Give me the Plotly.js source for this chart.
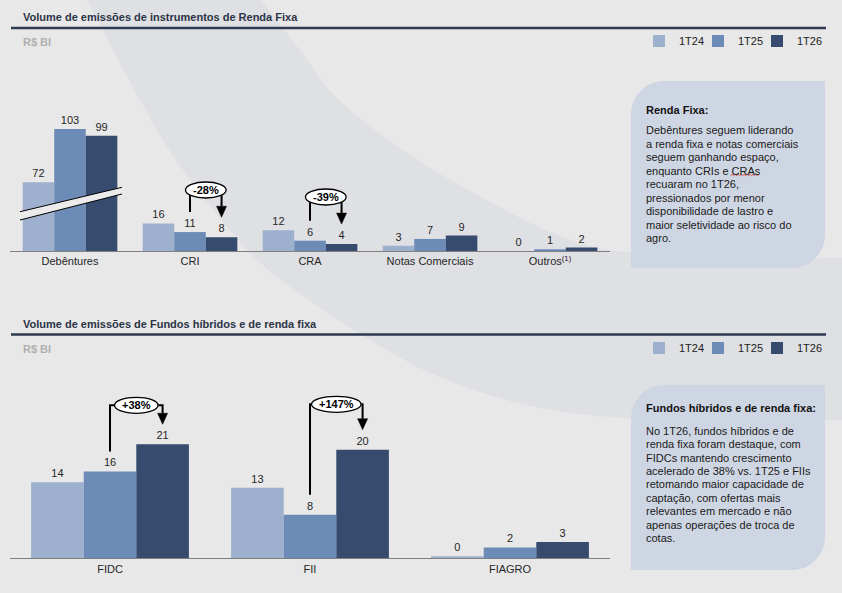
<!DOCTYPE html>
<html><head><meta charset="utf-8">
<script src="https://cdn.plot.ly/plotly-3.0.1.min.js"></script>
<style>html,body{margin:0;padding:0;background:#e8e8e8;overflow:hidden}</style>
</head><body><div id="chart" style="width:842px;height:593px"></div>
<script>
// ---------------- DATA ----------------
const seriesNames = ['1T24', '1T25', '1T26'];

const rfTitle = 'Volume de emissões de instrumentos de Renda Fixa';
const rfCategories = ['Debêntures', 'CRI', 'CRA', 'Notas Comerciais', 'Outros<sup>(1)</sup>'];
const rf1T24 = [72, 16, 12, 3, 0];
const rf1T25 = [103, 11, 6, 7, 1];
const rf1T26 = [99, 8, 4, 9, 2];
const rfChangeCats = ['CRI', 'CRA'];
const rfChangeLabels = ['-28%', '-39%'];

const fundTitle = 'Volume de emissões de Fundos híbridos e de renda fixa';
const fundCategories = ['FIDC', 'FII', 'FIAGRO'];
const fund1T24 = [14, 13, 0.4];
const fund1T25 = [16, 8, 2];
const fund1T26 = [21, 20, 3];
const fundChangeCats = ['FIDC', 'FII'];
const fundChangeLabels = ['+38%', '+147%'];

const unitLabel = 'R$ BI';

const rfNoteTitle = 'Renda Fixa:';
const rfNoteLines = ['Debêntures seguem liderando', 'a renda fixa e notas comerciais', 'seguem ganhando espaço,', 'enquanto CRIs e CRAs', 'recuaram no 1T26,', 'pressionados por menor', 'disponibilidade de lastro e', 'maior seletividade ao risco do', 'agro.'];
const fundNoteTitle = 'Fundos híbridos e de renda fixa:';
const fundNoteLines = ['No 1T26, fundos híbridos e de', 'renda fixa foram destaque, com', 'FIDCs mantendo crescimento', 'acelerado de 38% vs. 1T25 e FIIs', 'retomando maior capacidade de', 'captação, com ofertas mais', 'relevantes em mercado e não', 'apenas operações de troca de', 'cotas.'];

// ---------------- STYLE / LAYOUT ----------------
const W = 842, H = 593;
const FONT = 'Liberation Sans, Arial, sans-serif';
const colors = ['#9db0cd', '#6d8bb7', '#364b6d'];
const px = x => x / W, py = y => 1 - y / H;
const P = (x, y) => (x / W).toFixed(5) + ',' + (1 - y / H).toFixed(5);

const BW = 0.263; // bar width in category units
const offsets = [-1.5 * BW, -0.5 * BW, 0.5 * BW];

const T = {left: 10, right: 610, top: 60, bottom: 251, scale: 1.72, breakAt: 32};
const B = {left: 10, right: 610, top: 380, bottom: 558.3, scale: 5.43};
const topRange = (T.bottom - T.top) / T.scale;
const botRange = (B.bottom - B.top) / B.scale;
const topPxPerCat = (T.right - T.left) / rfCategories.length;
const botPxPerCat = (B.right - B.left) / fundCategories.length;

const rfSeries = [rf1T24, rf1T25, rf1T26];
const fundSeries = [fund1T24, fund1T25, fund1T26];

const traces = [];
const textCommon = {textposition: 'outside', texttemplate: '%{y:.0f}', cliponaxis: false, constraintext: 'none',
  textfont: {family: FONT, size: 11, color: '#262626'}, hoverinfo: 'skip'};
for (let s = 0; s < 3; s++) {
  const idx = rfCategories.map((c, i) => i);
  traces.push(Object.assign({type: 'bar', name: seriesNames[s], x: idx.slice(1), y: rfSeries[s].slice(1),
    xaxis: 'x', yaxis: 'y', width: BW, offset: offsets[s], marker: {color: colors[s], line: {width: 0}},
    legend: 'legend', legendgroup: 'top' + s, showlegend: true}, textCommon));
  traces.push(Object.assign({type: 'bar', name: seriesNames[s], x: idx.slice(0, 1), y: rfSeries[s].slice(0, 1),
    xaxis: 'x', yaxis: 'y3', width: BW, offset: offsets[s], marker: {color: colors[s], line: {width: 0}},
    legend: 'legend', legendgroup: 'top' + s, showlegend: false}, textCommon, {cliponaxis: true}));
}
for (let s = 0; s < 3; s++) {
  traces.push(Object.assign({type: 'bar', name: seriesNames[s], x: fundCategories.map((c, i) => i), y: fundSeries[s],
    xaxis: 'x2', yaxis: 'y2', width: BW, offset: offsets[s], marker: {color: colors[s], line: {width: 0}},
    legend: 'legend2', legendgroup: 'bot' + s, showlegend: true}, textCommon));
}
// invisible legend spacers so the last legend label is not clipped
[['x', 'y', 'legend'], ['x2', 'y2', 'legend2']].forEach(([xa, ya, lg]) => traces.push({type: 'bar', name: ' ', x: [-9], y: [0],
  xaxis: xa, yaxis: ya, marker: {color: 'rgba(0,0,0,0)'}, legend: lg, showlegend: true, hoverinfo: 'skip'}));

// ---------------- SHAPES ----------------
const shapes = [];
const annotations = [];

function smoothPath(pts) {
  let d = 'M' + P(pts[0][0], pts[0][1]);
  for (let i = 0; i < pts.length - 1; i++) {
    const p0 = pts[Math.max(0, i - 1)], p1 = pts[i], p2 = pts[i + 1], p3 = pts[Math.min(pts.length - 1, i + 2)];
    const c1 = [p1[0] + (p2[0] - p0[0]) / 6, p1[1] + (p2[1] - p0[1]) / 6];
    const c2 = [p2[0] - (p3[0] - p1[0]) / 6, p2[1] - (p3[1] - p1[1]) / 6];
    d += ' C' + P(c1[0], c1[1]) + ' ' + P(c2[0], c2[1]) + ' ' + P(p2[0], p2[1]);
  }
  return d;
}
const upperArc = [[261, 0], [300, 50], [339, 100], [410, 155], [487, 200], [550, 232], [610, 250], [700, 257], [842, 258]];
const lowerArc = [[842, 420], [700, 420], [610, 417], [540, 408], [480, 392], [424, 370], [370, 340], [309, 300], [250, 253], [183, 170], [140, 100], [87, 0]];
let band = smoothPath(upperArc) + ' L' + P(842, 420) + smoothPath(lowerArc).replace(/^M[^ C]+/, '') + ' Z';
shapes.push({type: 'path', xref: 'paper', yref: 'paper', path: band, fillcolor: '#dfe0e3', line: {width: 0}, layer: 'below'});

function roundBox(x0, y0, x1, y1, r) {
  const k = 0.5523 * r;
  return 'M' + P(x0 + r, y0) + ' L' + P(x1, y0) + ' L' + P(x1, y1 - r) +
    ' C' + P(x1, y1 - r + k) + ' ' + P(x1 - r + k, y1) + ' ' + P(x1 - r, y1) +
    ' L' + P(x0, y1) + ' L' + P(x0, y0 + r) +
    ' C' + P(x0, y0 + r - k) + ' ' + P(x0 + r - k, y0) + ' ' + P(x0 + r, y0) + ' Z';
}
shapes.push({type: 'path', xref: 'paper', yref: 'paper', path: roundBox(631, 81, 825, 268, 33), fillcolor: '#cfd6e3', line: {width: 0}, layer: 'below'});
shapes.push({type: 'path', xref: 'paper', yref: 'paper', path: roundBox(631, 385, 825, 570, 33), fillcolor: '#cfd6e3', line: {width: 0}, layer: 'below'});

[28, 334.5].forEach(y => shapes.push({type: 'line', xref: 'paper', yref: 'paper', x0: px(11), x1: px(826), y0: py(y), y1: py(y), line: {color: '#2d3a50', width: 2.5}}));

shapes.push({type: 'path', xref: 'paper', yref: 'paper', path: 'M' + P(20, 211.7) + ' L' + P(122, 187.3) + ' L' + P(122, 194) + ' L' + P(20, 220) + ' Z', fillcolor: '#ebebeb', line: {width: 0}, layer: 'above'});
shapes.push({type: 'line', xref: 'paper', yref: 'paper', x0: px(20), y0: py(211.7), x1: px(122), y1: py(187.3), line: {color: '#000', width: 1}});
shapes.push({type: 'line', xref: 'paper', yref: 'paper', x0: px(20), y0: py(220), x1: px(122), y1: py(194), line: {color: '#000', width: 1}});

const cvs = document.createElement('canvas').getContext('2d');
function bracket(xref, yref, i, v25, v26, label, bracketPx, scale, pxPerCat) {
  const xl = i, xr = i + BW;
  const yl = v25 + 20 / scale, yt = v26 + 20 / scale, yb = bracketPx / scale;
  const headH = 11 / scale, headW = 5 / pxPerCat;
  shapes.push({type: 'path', xref, yref, path: `M${xl},${yl} L${xl},${yb} L${xr},${yb} L${xr},${yt + headH}`, line: {color: '#000', width: 2}, layer: 'above'});
  shapes.push({type: 'path', xref, yref, path: `M${xr - headW},${yt + headH} L${xr + headW},${yt + headH} L${xr},${yt} Z`, fillcolor: '#000', line: {color: '#000', width: 0.5}, layer: 'above'});
  cvs.font = 'bold 11px "Liberation Sans", Arial';
  const tw = cvs.measureText(label).width + 15;
  const xm = (xl + xr) / 2;
  shapes.push({type: 'circle', xref, yref, x0: xm - tw / 2 / pxPerCat, x1: xm + tw / 2 / pxPerCat, y0: yb - 8 / scale, y1: yb + 8 / scale,
    fillcolor: '#ffffff', line: {color: '#000', width: 1.3}, layer: 'above'});
  annotations.push({xref, yref, x: xm, y: yb, text: '<b>' + label + '</b>', showarrow: false, font: {family: FONT, size: 11, color: '#000'}});
}
const rfBracketPx = [61, 54];
rfChangeCats.forEach((c, k) => {
  const i = rfCategories.indexOf(c);
  bracket('x', 'y', i, rf1T25[i], rf1T26[i], rfChangeLabels[k], rfBracketPx[k], T.scale, topPxPerCat);
});
const fundBracketPx = [153, 154];
fundChangeCats.forEach((c, k) => {
  const i = fundCategories.indexOf(c);
  bracket('x2', 'y2', i, fund1T25[i], fund1T26[i], fundChangeLabels[k], fundBracketPx[k], B.scale, botPxPerCat);
});

// ---------------- TEXT ----------------
function txt(x, y, text, size, color, bold) {
  annotations.push({xref: 'paper', yref: 'paper', x: px(x), y: py(y), xanchor: 'left', yanchor: 'middle', showarrow: false,
    text: bold ? '<b>' + text + '</b>' : text, font: {family: FONT, size, color}, borderpad: 0});
}
txt(22, 17, rfTitle, 11, '#2b3446', true);
txt(22, 42, unitLabel, 11, '#b0b0b0', true);
txt(22, 324, fundTitle, 11, '#2b3446', true);
txt(22, 348.5, unitLabel, 11, '#b0b0b0', true);

const noteX = 645;
txt(noteX, 110, rfNoteTitle, 11, '#111', true);
rfNoteLines.forEach((l, k) => txt(noteX, 130 + k * 13.54, l, 11, '#1a1a1a', false));
txt(noteX, 407.7, fundNoteTitle, 11, '#111', true);
fundNoteLines.forEach((l, k) => txt(noteX, 430.7 + k * 13.4, l, 11, '#1a1a1a', false));

(function () {
  cvs.font = '11px "Liberation Sans", Arial';
  const k = rfNoteLines.findIndex(l => l.indexOf('CRAs') >= 0);
  const line = rfNoteLines[k];
  const x0 = noteX + cvs.measureText(line.slice(0, line.indexOf('CRAs'))).width;
  const x1 = x0 + cvs.measureText('CRAs').width;
  const yb = 130 + k * 13.54 + 5;
  let d = 'M' + P(x0, yb);
  for (let x = x0 + 1.5, up = true; x <= x1; x += 1.5, up = !up) d += ' L' + P(x, up ? yb - 1.3 : yb);
  shapes.push({type: 'path', xref: 'paper', yref: 'paper', path: d, line: {color: '#e0302c', width: 0.8}, layer: 'above'});
})();

// ---------------- AXES ----------------
const hidden = {showgrid: false, zeroline: false, showticklabels: false, showline: false, ticks: '', fixedrange: true, automargin: false};
const legendCommon = {orientation: 'h', xanchor: 'left', yanchor: 'middle', bgcolor: 'rgba(0,0,0,0)', borderwidth: 0,
  font: {family: FONT, size: 11, color: '#222'}, entrywidth: 14, entrywidthmode: 'pixels', traceorder: 'normal', itemclick: false, itemdoubleclick: false};

const layout = {
  width: W, height: H, margin: {l: 0, r: 0, t: 0, b: 0, autoexpand: false},
  paper_bgcolor: '#e8e8e8', plot_bgcolor: 'rgba(0,0,0,0)',
  font: {family: FONT, size: 11, color: '#262626'},
  barmode: 'overlay', showlegend: true, hovermode: false,
  xaxis: {domain: [px(T.left), px(T.right)], range: [-0.5, rfCategories.length - 0.5], anchor: 'y', automargin: false,
    tickmode: 'array', tickvals: rfCategories.map((c, i) => i), ticktext: rfCategories,
    showgrid: false, zeroline: false, showline: true, linecolor: '#808080', linewidth: 1, ticks: '',
    tickfont: {family: FONT, size: 11, color: '#262626'}, fixedrange: true},
  yaxis: Object.assign({domain: [py(T.bottom), py(T.top)], range: [0, topRange], anchor: 'x'}, hidden),
  yaxis3: Object.assign({domain: [py(T.bottom), py(T.top)], range: [T.breakAt, T.breakAt + topRange], anchor: 'x', overlaying: 'y'}, hidden),
  xaxis2: {domain: [px(B.left), px(B.right)], range: [-0.5, fundCategories.length - 0.5], anchor: 'y2', automargin: false,
    tickmode: 'array', tickvals: fundCategories.map((c, i) => i), ticktext: fundCategories,
    showgrid: false, zeroline: false, showline: true, linecolor: '#808080', linewidth: 1, ticks: '',
    tickfont: {family: FONT, size: 11, color: '#262626'}, fixedrange: true},
  yaxis2: Object.assign({domain: [py(B.bottom), py(B.top)], range: [0, botRange], anchor: 'x2'}, hidden),
  legend: Object.assign({x: px(639), y: py(41)}, legendCommon),
  legend2: Object.assign({x: px(639), y: py(348)}, legendCommon),
  shapes, annotations
};

Plotly.newPlot('chart', traces, layout, {displayModeBar: false, staticPlot: true});
</script>
</body></html>
